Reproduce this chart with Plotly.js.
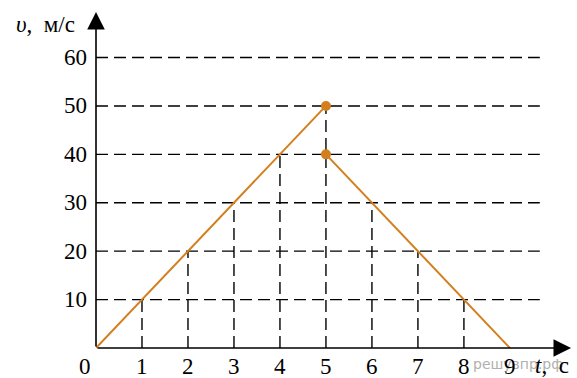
<!DOCTYPE html>
<html><head><meta charset="utf-8">
<script src="https://cdn.plot.ly/plotly-3.0.1.min.js"></script>
<style>html,body{margin:0;padding:0;background:#fff}</style>
</head><body>
<div id="chart" style="width:577px;height:378px"></div>
<script>
// Data
const tUp = [0, 5];
const vUp = [0, 50];
const tDown = [5, 9];
const vDown = [40, 0];
const jumpT = [5, 5];
const jumpV = [50, 40];
const gridT = [1, 2, 3, 4, 5, 6, 7, 8];
const gridV = [10, 20, 30, 40, 50, 30, 20, 10];
const yLevels = [10, 20, 30, 40, 50, 60];
const xTicks = [0, 1, 2, 3, 4, 5, 6, 7, 8, 9];
const yTicks = [10, 20, 30, 40, 50, 60];

const orange = '#d47f1e';
const serif = 'Liberation Serif';

const shapes = [];
yLevels.forEach(v => shapes.push({type:'line', xref:'x', yref:'y', x0:0, x1:9.65, y0:v, y1:v,
  line:{color:'#000', width:1.4, dash:'12px,6px'}, layer:'below'}));
gridT.forEach((t,i) => shapes.push({type:'line', xref:'x', yref:'y', x0:t, x1:t, y0:0, y1:gridV[i],
  line:{color:'#000', width:1.4, dash:'12px,6px'}, layer:'below'}));

const annotations = [];
// watermark (behind text)
annotations.push({xref:'paper', yref:'paper', x:0.887, y:0, yshift:-16, showarrow:false,
  text:'решувпр.рф', font:{family:'DejaVu Sans', size:14, color:'#b0b0b0'}, xanchor:'center', yanchor:'middle'});
// axes arrows
annotations.push({xref:'x', yref:'y', axref:'x', ayref:'y', x:10.33, y:0, ax:0, ay:0,
  showarrow:true, arrowhead:2, arrowsize:2.2, arrowwidth:1.6, arrowcolor:'#000', text:''});
annotations.push({xref:'x', yref:'y', axref:'x', ayref:'y', x:0, y:69.4, ax:0, ay:0,
  showarrow:true, arrowhead:2, arrowsize:2.2, arrowwidth:1.6, arrowcolor:'#000', text:''});
// tick labels
xTicks.forEach(t => annotations.push({xref:'x', yref:'paper', x:t, y:0, yshift:-18, xshift:(t===0?-11:0), showarrow:false,
  text:String(t), font:{family:serif, size:23, color:'#000'}, xanchor:'center', yanchor:'middle'}));
yTicks.forEach(v => annotations.push({xref:'paper', yref:'y', x:0, y:v, xshift:-7, showarrow:false,
  text:String(v), font:{family:serif, size:23, color:'#000'}, xanchor:'right', yanchor:'middle'}));
// axis titles
annotations.push({xref:'paper', yref:'paper', x:0.918, y:0, yshift:-17, showarrow:false,
  text:'<i>t</i>,  c', font:{family:serif, size:23, color:'#000'}, xanchor:'left', yanchor:'middle'});
annotations.push({xref:'paper', yref:'paper', x:-0.172, y:1, yshift:-12, showarrow:false,
  text:'<i>υ</i>,  м/с', font:{family:serif, size:23, color:'#000'}, xanchor:'left', yanchor:'middle'});

const traces = [
  {x:tUp, y:vUp, mode:'lines', line:{color:orange, width:2}, hoverinfo:'skip'},
  {x:tDown, y:vDown, mode:'lines', line:{color:orange, width:2}, hoverinfo:'skip'},
  {x:jumpT, y:jumpV, mode:'markers', marker:{color:orange, size:10}, hoverinfo:'skip'}
];

const layout = {
  width:577, height:378,
  margin:{l:96, r:5, t:12, b:30},
  paper_bgcolor:'#fff', plot_bgcolor:'#fff',
  showlegend:false,
  font:{family:serif},
  xaxis:{range:[0,10.35], showgrid:false, zeroline:false, showline:false, showticklabels:false, ticks:''},
  yaxis:{range:[0,69.4], showgrid:false, zeroline:false, showline:false, showticklabels:false, ticks:''},
  shapes:shapes,
  annotations:annotations
};
Plotly.newPlot('chart', traces, layout, {staticPlot:true, displayModeBar:false});
</script>
</body></html>
